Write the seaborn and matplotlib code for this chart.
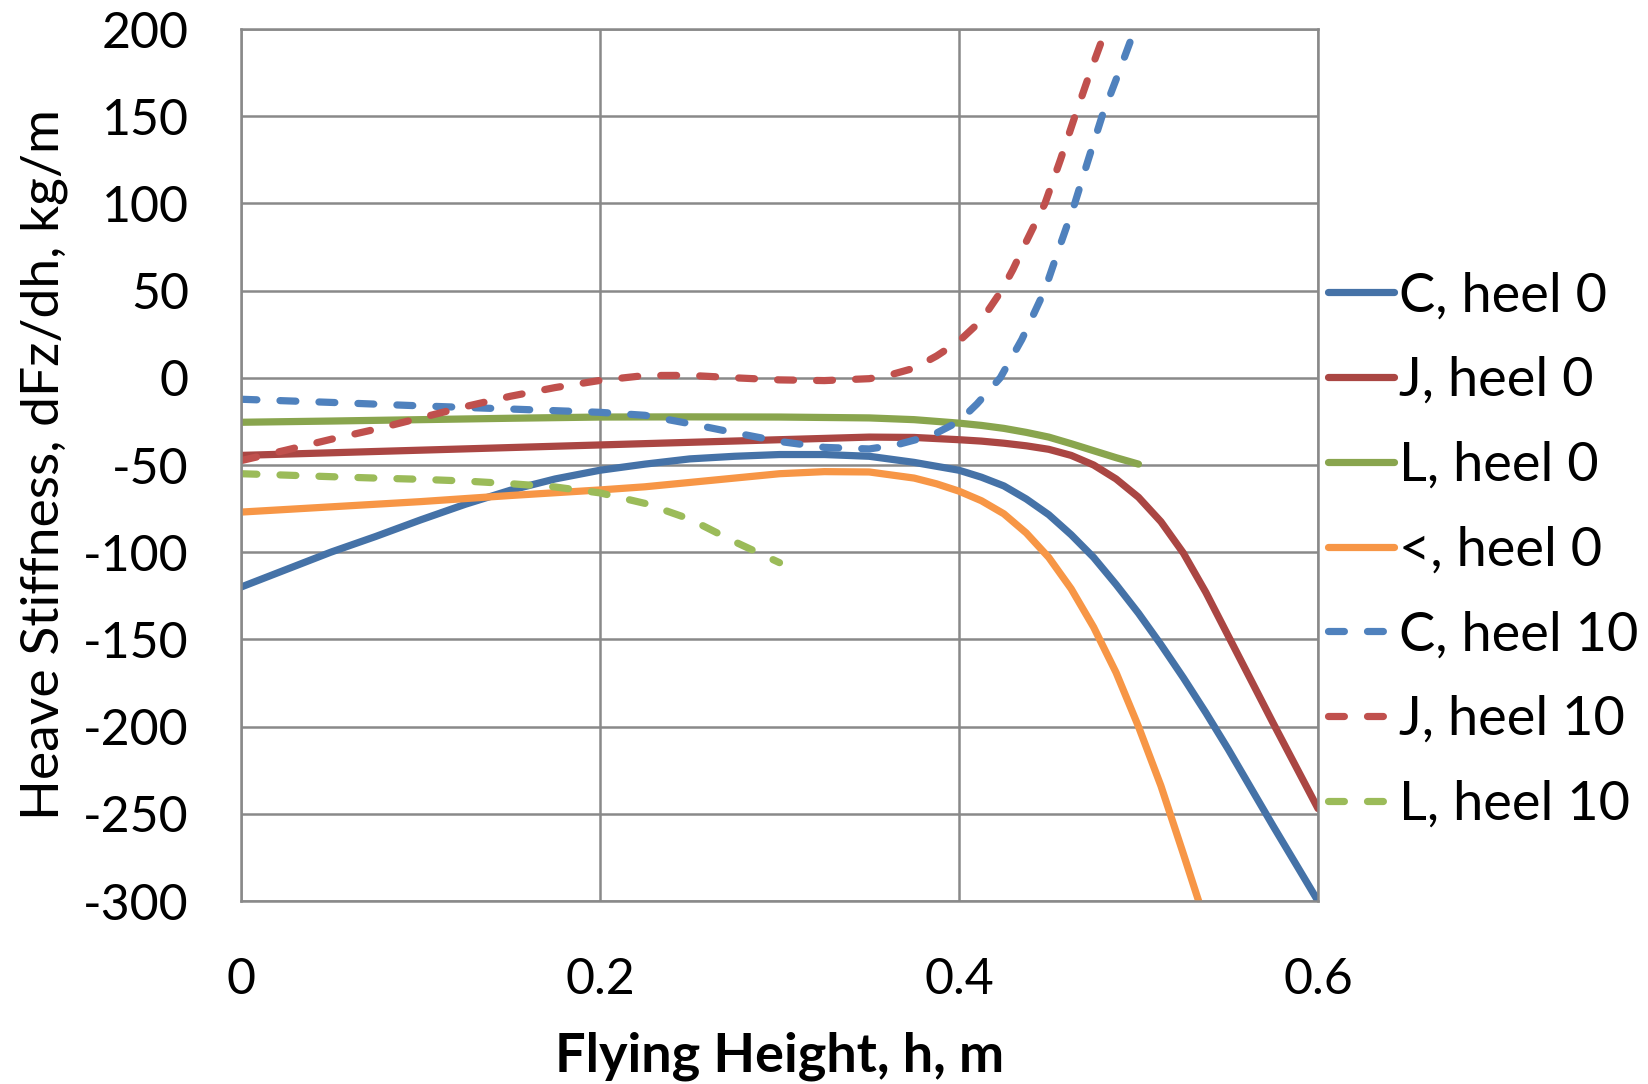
import numpy as np
import pandas as pd
import matplotlib
matplotlib.use("Agg")
import matplotlib.pyplot as plt
import seaborn as sns

# Heave stiffness vs flying height for several hull shapes at heel 0 and heel 10
c_h0_x = [0, 0.025, 0.05, 0.075, 0.1, 0.125, 0.15, 0.175, 0.2, 0.225, 0.25, 0.275, 0.3,
          0.325, 0.35, 0.375, 0.4, 0.4125, 0.425, 0.4375, 0.45, 0.4625, 0.475, 0.4875,
          0.5, 0.5125, 0.525, 0.5375, 0.55, 0.5625, 0.575, 0.5875, 0.6]
c_h0_y = [-120, -110, -100, -91, -81.5, -72.5, -64.5, -58, -53, -49.5, -46.5, -45, -44,
          -44, -45, -48.5, -53, -57, -62, -69.5, -78.5, -90, -103, -118.5,
          -135, -153, -172, -192, -213, -235, -257, -278.5, -300]

j_h0_x = [0, 0.05, 0.1, 0.15, 0.2, 0.25, 0.3, 0.35, 0.375, 0.4, 0.4125, 0.425, 0.4375,
          0.45, 0.4625, 0.475, 0.4875, 0.5, 0.5125, 0.525, 0.5375, 0.55, 0.5625, 0.575,
          0.5875, 0.6]
j_h0_y = [-44.5, -43, -41.5, -40, -38.5, -37, -35.5, -34, -34.2, -35.5, -36.3, -37.5, -39,
          -41, -44.5, -50, -58, -68.5, -82.5, -100.5, -123, -148, -173, -198,
          -222.5, -247]

l_h0_x = [0, 0.05, 0.1, 0.15, 0.2, 0.25, 0.3, 0.35, 0.375, 0.4, 0.4125, 0.425, 0.4375,
          0.45, 0.4625, 0.475, 0.4875, 0.5]
l_h0_y = [-25.5, -24.8, -24, -23.2, -22.5, -22.4, -22.5, -23, -24, -26, -27.3, -29, -31.3,
          -34, -37.8, -41.8, -45.8, -49.5]

v_h0_x = [0, 0.05, 0.1, 0.15, 0.2, 0.225, 0.25, 0.275, 0.3, 0.325, 0.35, 0.375, 0.3875,
          0.4, 0.4125, 0.425, 0.4375, 0.45, 0.4625, 0.475, 0.4875, 0.5, 0.5125, 0.525,
          0.5335]
v_h0_y = [-77, -74, -71, -67.5, -64.3, -62.5, -60, -57.5, -55, -53.8, -54, -57.5, -60.8,
          -65, -70.5, -78, -89, -103, -121, -143, -169, -200, -234, -273,
          -300]

c_h10_x = [0, 0.05, 0.1, 0.15, 0.2, 0.225, 0.25, 0.275, 0.3, 0.325, 0.35, 0.365, 0.385,
           0.4, 0.41, 0.423, 0.435, 0.4477, 0.456, 0.4645, 0.472, 0.4797, 0.489, 0.498]
c_h10_y = [-12.3, -14.1, -16.1, -17.9, -19.8, -21.5, -26.3, -31.5, -36.5, -39.9, -40.8,
           -38.5, -33, -25, -15, 0, 22, 50, 75, 100, 125, 150, 175, 200]

j_h10_x = [0, 0.025, 0.05, 0.075, 0.1, 0.125, 0.15, 0.175, 0.2, 0.225, 0.25, 0.275, 0.3,
           0.325, 0.35, 0.36, 0.375, 0.3875, 0.4, 0.4125, 0.4237, 0.43, 0.436, 0.4479,
           0.4565, 0.4646, 0.473, 0.4819]
j_h10_y = [-47.5, -41.5, -35.3, -29.5, -23, -16.5, -10.6, -5.6, -1.5, 1.3, 1.4, 0, -1.2,
           -1.6, -0.5, 1.2, 5.5, 12.5, 21, 33, 50, 62, 75, 100,
           125, 150, 175, 200]

l_h10_x = [0, 0.025, 0.05, 0.075, 0.1, 0.125, 0.15, 0.175, 0.2, 0.225, 0.25, 0.275, 0.3]
l_h10_y = [-55, -55.8, -56.7, -57.5, -58.2, -59.2, -60.7, -62.6, -66, -72, -81, -94, -106]

series_names = ["C, heel 0", "J, heel 0", "L, heel 0", "<, heel 0",
                "C, heel 10", "J, heel 10", "L, heel 10"]
series_x = [c_h0_x, j_h0_x, l_h0_x, v_h0_x, c_h10_x, j_h10_x, l_h10_x]
series_y = [c_h0_y, j_h0_y, l_h0_y, v_h0_y, c_h10_y, j_h10_y, l_h10_y]
series_colors = ["#4572A7", "#AA4643", "#89A54E", "#F79646",
                 "#4F81BD", "#C0504D", "#9BBB59"]
series_dashes = ["", "", "", "", (2.2, 3.2), (2.2, 3.2), (2.2, 3.2)]

x_ticks = [0, 0.2, 0.4, 0.6]
x_tick_labels = ["0", "0.2", "0.4", "0.6"]
y_ticks = [200, 150, 100, 50, 0, -50, -100, -150, -200, -250, -300]

frames = []
for name, xs, ys in zip(series_names, series_x, series_y):
    frames.append(pd.DataFrame({"h": xs, "k": ys, "series": name}))
df = pd.concat(frames, ignore_index=True)

sns.set_theme(style="white")
plt.rcParams["font.family"] = ["Lato", "DejaVu Sans"]
plt.rcParams["axes.unicode_minus"] = False
plt.rcParams["text.color"] = "black"
plt.rcParams["axes.labelcolor"] = "black"
plt.rcParams["lines.solid_capstyle"] = "round"
plt.rcParams["lines.dash_capstyle"] = "round"

grid_color = "#898989"
line_w = 5.2

fig = plt.figure(figsize=(16.49, 10.84), dpi=100)
ax = fig.add_axes([241 / 1649, 1 - 901 / 1084, (1318 - 241) / 1649, (901 - 29) / 1084])

sns.lineplot(
    data=df, x="h", y="k", hue="series", style="series",
    hue_order=series_names, style_order=series_names,
    palette=dict(zip(series_names, series_colors)),
    dashes=dict(zip(series_names, series_dashes)),
    sort=False, estimator=None, linewidth=line_w, ax=ax, legend=True,
)

ax.set_xlim(0, 0.6)
ax.set_ylim(-300, 200)
ax.set_xticks(x_ticks)
ax.set_xticklabels(x_tick_labels)
ax.set_yticks(y_ticks)
ax.grid(True, color=grid_color, linewidth=1.8)
ax.set_axisbelow(True)
for sp in ax.spines.values():
    sp.set_visible(True)
    sp.set_color(grid_color)
    sp.set_linewidth(1.8)
ax.tick_params(axis="both", direction="out", length=13.5, width=1.8, color=grid_color,
               labelsize=36, labelcolor="black")
ax.tick_params(axis="y", pad=24)
ax.tick_params(axis="x", pad=27)

ax.set_xlabel("Flying Height, h, m", fontsize=39, fontweight="bold", labelpad=20)
ax.set_ylabel("Heave Stiffness, dFz/dh, kg/m", fontsize=38.5, labelpad=11)

handles, labels = ax.get_legend_handles_labels()
for hd in handles:
    hd.set_linewidth(line_w)
ax.legend(handles, labels, loc="center left", bbox_to_anchor=(1.009, 0.4025),
          frameon=False, fontsize=39, handlelength=1.22, handletextpad=0.1,
          labelspacing=0.66, borderaxespad=0, borderpad=0)

fig.savefig("out.png", dpi=100)
